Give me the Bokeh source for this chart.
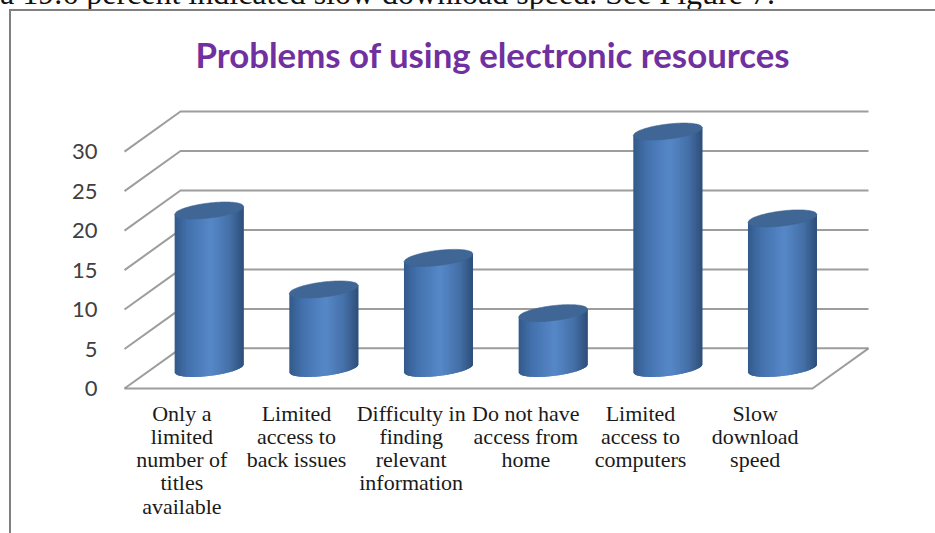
import math
from bokeh.plotting import figure
from bokeh.layouts import column
from bokeh.models import FixedTicker, Div, InlineStyleSheet
from bokeh.embed import file_html
from bokeh.resources import INLINE

categories = ["Only a\nlimited\nnumber of\ntitles\navailable", "Limited\naccess to\nback issues",
              "Difficulty in\nfinding\nrelevant\ninformation", "Do not have\naccess from\nhome",
              "Limited\naccess to\ncomputers", "Slow\ndownload\nspeed"]
values = [20, 10, 14, 7, 30, 19]
y_ticks = [0, 5, 10, 15, 20, 25, 30]
title_text = "Problems of using electronic resources"
header_text = "a 19.6 percent indicated slow download speed. See Figure 7."

PX_X, PX_Y = 114.67, 7.87
DEPTH_X, DEPTH_Y = 56 / PX_X, 40 / PX_Y
X0, X1 = -0.5, 5.5
pad_x, pad_y = 4 / PX_X, 4 / PX_Y

p = figure(width=935, height=533, output_backend="svg", toolbar_location=None,
           x_range=(X0 - pad_x, X1 + DEPTH_X + pad_x),
           y_range=(-pad_y, 30 + DEPTH_Y + pad_y),
           min_border_left=120, min_border_right=63, min_border_top=107, min_border_bottom=141,
           outline_line_color=None, background_fill_color=None, border_fill_color=None,
           margin=(-10, 0, 0, 0))
p.grid.visible = False
p.stylesheets = [InlineStyleSheet(css=":host::before{content:'';position:absolute;left:9px;top:9px;right:0;bottom:0;"
                                      "border-left:2.5px solid #808080;border-top:2.5px solid #808080;"
                                      "z-index:5;pointer-events:none;}")]

header = Div(text=header_text, width=935, height=10, margin=0,
             styles={"font-family": "Liberation Serif", "font-size": "32px", "line-height": "32px",
                     "white-space": "nowrap", "color": "#111111", "position": "relative", "top": "-23px"})

t = p.title
t.text = title_text
t.text_color = "#7030A0"
t.text_font = "Lato"
t.text_font_style = "bold"
t.text_font_size = "34.8px"
t.align = "left"
t.offset = 75
t.standoff = 62
t.vertical_align = "top"

ya = p.yaxis[0]
ya.ticker = FixedTicker(ticks=y_ticks)
ya.axis_line_color = None
ya.major_tick_line_color = None
ya.minor_tick_line_color = None
ya.major_label_standoff = 17
ya.major_label_text_font = "Lato"
ya.major_label_text_font_size = "22px"
ya.major_label_text_color = "#404040"

xa = p.xaxis[0]
xa.ticker = FixedTicker(ticks=list(range(len(categories))))
xa.major_label_overrides = {i: c for i, c in enumerate(categories)}
xa.axis_line_color = None
xa.major_tick_line_color = None
xa.minor_tick_line_color = None
xa.major_label_standoff = 2
xa.major_label_text_font = "Liberation Serif"
xa.major_label_text_font_size = "22px"
xa.major_label_text_color = "#1a1a1a"
xa.major_label_text_line_height = 0.93

GRID = "#8c8c8c"
for v in y_ticks:
    p.line([X0, X0 + DEPTH_X, X1 + DEPTH_X], [v, v + DEPTH_Y, v + DEPTH_Y], line_color=GRID, line_width=2, line_alpha=0.85)
p.line([X0, X1, X1 + DEPTH_X], [0, 0, DEPTH_Y], line_color=GRID, line_width=2, line_alpha=0.85)

STOPS = [(-1.0, (0x33, 0x59, 0x8a)), (-0.6, (0x44, 0x72, 0xae)), (0.05, (0x56, 0x88, 0xc8)),
         (0.6, (0x45, 0x70, 0xa8)), (1.0, (0x2d, 0x4e, 0x78))]


def shade(u):
    for (a, ca), (b, cb) in zip(STOPS, STOPS[1:]):
        if u <= b:
            f = (u - a) / (b - a)
            return "#%02x%02x%02x" % tuple(round(x + (y - x) * f) for x, y in zip(ca, cb))
    return "#2d4e78"


R = 34.5 / PX_X
B = 7.5 / PX_Y
TILT = 0.115 * PX_X / PX_Y
N = 34
floor_y = DEPTH_Y / 2


def edge(yc, u, sign):
    return yc + TILT * R * u + sign * B * math.sqrt(max(0, 1 - u * u))


xs, ys, cols = [], [], []
top_x, top_y = [], []
for i, v in enumerate(values):
    xc = i + DEPTH_X / 2 - 0.7 / PX_X
    yb, yt = floor_y, floor_y + v
    for k in range(N):
        u0, u1 = -1 + 2 * k / N, min(1, -1 + 2 * (k + 2) / N)
        us = [u0 + (u1 - u0) * j / 6 for j in range(7)]
        xs.append([xc + R * u for u in us] + [xc + R * u1, xc + R * u0])
        ys.append([edge(yb, u, -1) for u in us] + [edge(yt, u1, 0), edge(yt, u0, 0)])
        cols.append(shade(-1 + 2 * (k + 0.5) / N))
    us = [-1 + 2 * k / 60 for k in range(61)]
    top_x.append([xc + R * u for u in us] + [xc + R * u for u in reversed(us)])
    top_y.append([edge(yt, u, 1) for u in us] + [edge(yt, u, -1) for u in reversed(us)])

p.patches(xs, ys, fill_color=cols, line_color=None)
p.patches(top_x, top_y, fill_color="#3f6694", line_color="#3f6694", line_width=0.6)

page = column(header, p, spacing=0, margin=0)
open("out.html", "w").write(file_html(page, INLINE))
